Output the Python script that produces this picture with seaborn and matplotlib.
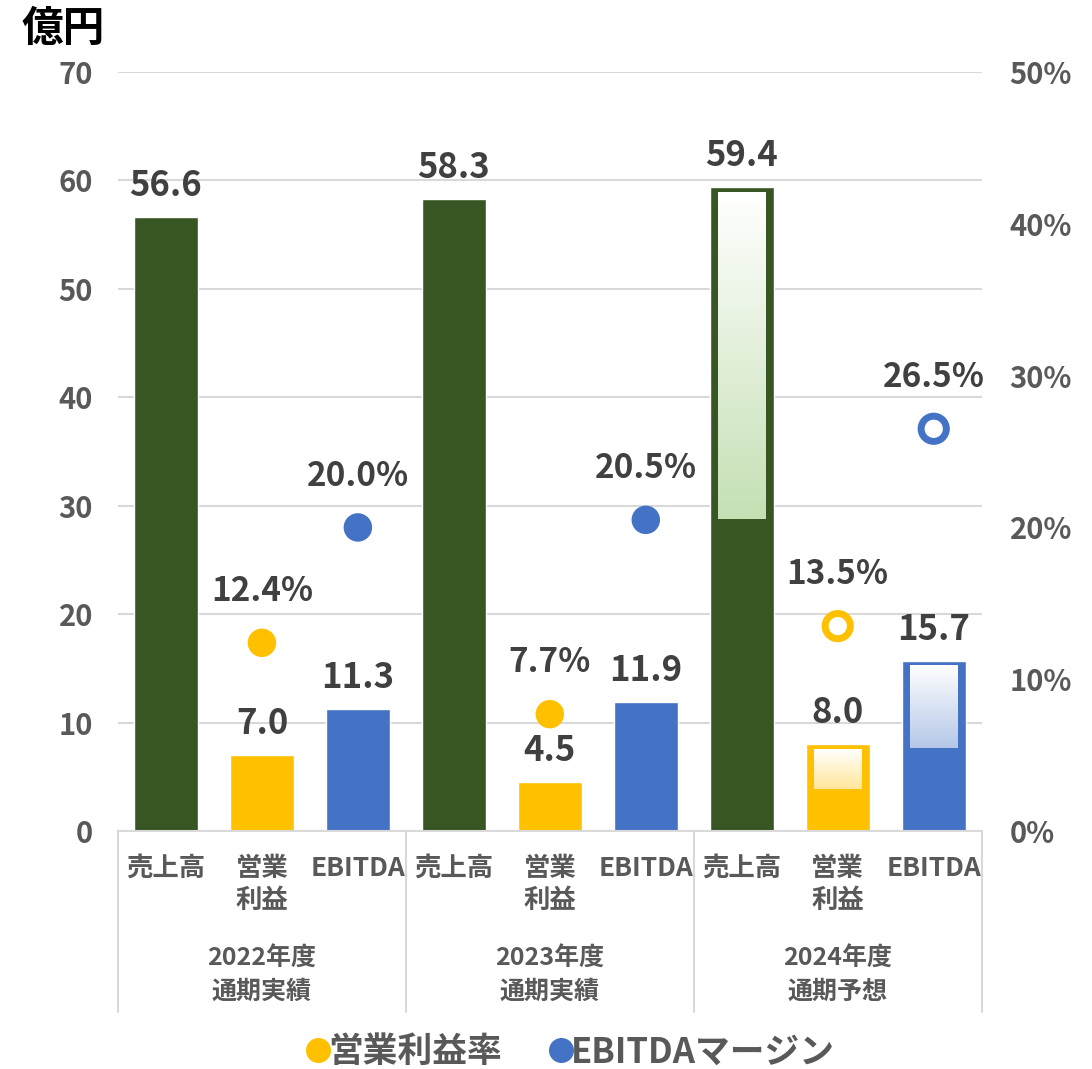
import numpy as np
import pandas as pd
import matplotlib
matplotlib.use("Agg")
import matplotlib.pyplot as plt
import matplotlib.transforms as mtransforms
from matplotlib.colors import LinearSegmentedColormap
from matplotlib.lines import Line2D
import seaborn as sns

# データ（億円 / %）
years = ["2022年度\n通期実績", "2023年度\n通期実績", "2024年度\n通期予想"]
metrics = ["売上高", "営業\n利益", "EBITDA"]
sales = [56.6, 58.3, 59.4]
op_profit = [7.0, 4.5, 8.0]
ebitda = [11.3, 11.9, 15.7]
op_margin = [12.4, 7.7, 13.5]
ebitda_margin = [20.0, 20.5, 26.5]
is_forecast = [False, False, True]

colors = {"売上高": "#375623", "営業\n利益": "#FFC000", "EBITDA": "#4472C4"}
light = {"売上高": "#C5E0B4", "営業\n利益": "#FFE699", "EBITDA": "#B4C7E7"}
rate_colors = {"営業利益率": "#FFC000", "EBITDAマージン": "#4472C4"}
text_dark = "#404040"
text_gray = "#595959"
grid_gray = "#D9D9D9"

rows = []
for i, y in enumerate(years):
    for m, vals in zip(metrics, [sales, op_profit, ebitda]):
        rows.append({"key": f"{i}_{m}", "year": y, "metric": m,
                     "value": vals[i], "forecast": is_forecast[i]})
df = pd.DataFrame(rows)

rate_rows = []
for i in range(len(years)):
    rate_rows.append({"x": i * 3 + 1, "rate": op_margin[i], "kind": "営業利益率", "forecast": is_forecast[i]})
    rate_rows.append({"x": i * 3 + 2, "rate": ebitda_margin[i], "kind": "EBITDAマージン", "forecast": is_forecast[i]})
rates = pd.DataFrame(rate_rows)

sns.set_theme(style="white")
plt.rcParams["font.family"] = ["Noto Sans CJK JP", "DejaVu Sans"]

fig = plt.figure(figsize=(10.92, 10.69), dpi=100)
ax = fig.add_axes([0.108, 0.2226, 0.791, 0.71])

sns.barplot(data=df, x="key", y="value", hue="metric", order=list(df["key"]),
            hue_order=metrics, palette=colors, dodge=False, width=0.667,
            saturation=1, legend=False, ax=ax, zorder=2)

# 予想値の棒: 上半分にグラデーション
grad = np.linspace(0, 1, 256).reshape(-1, 1)
for cont, m in zip(ax.containers, metrics):
    cmap = LinearSegmentedColormap.from_list(m, [light[m], "white"])
    for bar in cont:
        idx = int(round(bar.get_x() + bar.get_width() / 2))
        if df.loc[idx, "forecast"]:
            x0, w, h = bar.get_x(), bar.get_width(), bar.get_height()
            ax.imshow(grad, cmap=cmap, aspect="auto", origin="lower", zorder=3,
                      extent=[x0 + 0.085, x0 + w - 0.085, h * 0.485, h - 0.45])
    ax.bar_label(cont, fmt="%.1f", padding=10, fontsize=25, fontweight="bold",
                 color=text_dark)

ax.set_ylim(0, 70)
ax.set_yticks(range(0, 71, 10))
ax.yaxis.grid(True, color=grid_gray, linewidth=1.5)
ax.set_axisbelow(True)
ax.set_xlabel("")
ax.set_ylabel("")
ax.set_xticks(range(len(df)))
ax.set_xticklabels(df["metric"], linespacing=1.25)
ax.tick_params(axis="x", length=0, pad=17, labelsize=19, labelcolor=text_gray)
ax.tick_params(axis="y", length=0, pad=18, labelsize=21, labelcolor=text_gray)
for lab in ax.get_xticklabels() + ax.get_yticklabels():
    lab.set_fontweight("bold")
for s in ["left", "right", "top"]:
    ax.spines[s].set_visible(False)
ax.spines["bottom"].set_color(grid_gray)
ax.spines["bottom"].set_linewidth(1.5)

# 利益率（右軸）
ax2 = ax.twinx()
actual = rates[~rates["forecast"]]
sns.scatterplot(data=actual, x="x", y="rate", hue="kind", palette=rate_colors,
                s=420, linewidth=0, legend=False, ax=ax2, zorder=4)
fc = rates[rates["forecast"]]
ax2.scatter(fc["x"], fc["rate"], s=330, facecolors="white",
            edgecolors=[rate_colors[k] for k in fc["kind"]], linewidths=5, zorder=4)
for _, r in rates.iterrows():
    ax2.annotate(f"{r['rate']:.1f}%", (r["x"], r["rate"]), xytext=(0, 37),
                 textcoords="offset points", ha="center", va="center",
                 fontsize=24, fontweight="bold", color=text_dark)
ax2.set_ylim(0, 50)
ax2.set_yticks(range(0, 51, 10))
ax2.set_yticklabels([f"{v}%" for v in range(0, 51, 10)])
ax2.set_ylabel("")
ax2.tick_params(axis="y", length=0, pad=20, labelsize=21, labelcolor=text_gray)
for lab in ax2.get_yticklabels():
    lab.set_fontweight("bold")
for s in ax2.spines.values():
    s.set_visible(False)
ax2.grid(False)

ax.set_xlim(-0.5, len(df) - 0.5)

# 年度ラベルと区切り線
trans = mtransforms.blended_transform_factory(ax.transData, ax.transAxes)
for xv in [-0.5, 2.5, 5.5, 8.5]:
    ax.plot([xv, xv], [0, -0.2385], transform=trans, color=grid_gray,
            linewidth=1.5, clip_on=False)
for i, y in enumerate(years):
    ax.text(i * 3 + 1, -0.19, y, transform=trans, ha="center", va="center",
            fontsize=18, fontweight="bold", color=text_gray, linespacing=1.45)

fig.text(0.02, 0.973, "億円", fontsize=30, fontweight="bold", color="black",
         va="center", ha="left")

handles = [Line2D([], [], marker="o", linestyle="", markersize=17, color=c, label=k)
           for k, c in rate_colors.items()]
fig.legend(handles=handles, loc="center", bbox_to_anchor=(0.52, 0.016), ncol=2,
           frameon=False, prop={"size": 25, "weight": "bold"}, labelcolor=text_gray,
           handletextpad=-0.2, columnspacing=1.2, handlelength=1.0)

fig.savefig("out.png", dpi=100)
